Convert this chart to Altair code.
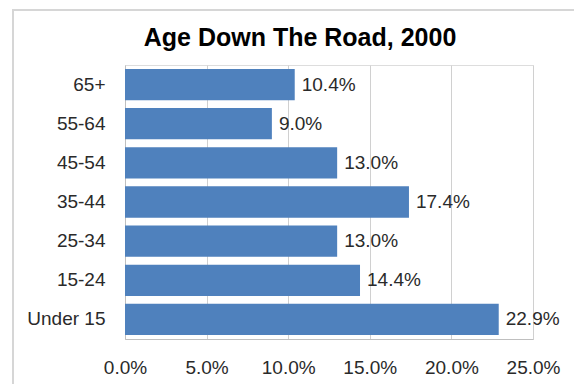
import altair as alt
import pandas as pd

title_text = "Age Down The Road, 2000"
categories = ["65+", "55-64", "45-54", "35-44", "25-34", "15-24", "Under 15"]
values = [10.4, 9.0, 13.0, 17.4, 13.0, 14.4, 22.9]
ticks = [0, 5, 10, 15, 20, 25]

df = pd.DataFrame({"age": categories, "pct": values})
df["label"] = df["pct"].map(lambda v: f"{v:.1f}%")

FONT = "Liberation Sans"
TXT = "#2a2a2a"

y = alt.Y("age:N", sort=categories, title=None,
          scale=alt.Scale(paddingInner=0.2, paddingOuter=0.1),
          axis=alt.Axis(labelFontSize=19, labelColor=TXT, labelFont=FONT,
                        ticks=False, labelPadding=20, domainColor="#bfbfbf"))
x = alt.X("pct:Q", title=None,
          scale=alt.Scale(domain=[0, 25], nice=False),
          axis=alt.Axis(values=ticks, labelExpr="format(datum.value, '.1f') + '%'",
                        labelFontSize=19, labelColor=TXT, labelFont=FONT,
                        ticks=False, labelPadding=19, domainColor="#bfbfbf",
                        gridColor="#d0d0d0", labelFlush=False))

one = pd.DataFrame({"t": [title_text]})

frame = alt.Chart(one).mark_rect(
    fill=None, stroke="#d6d6d6", strokeWidth=2).encode(
    x=alt.value(-112), x2=alt.value(460), y=alt.value(-55), y2=alt.value(330))

title = alt.Chart(one).mark_text(fontSize=25, font=FONT, fontWeight="bold", color="#000",
                                 align="center", baseline="middle").encode(
    x=alt.value(175), y=alt.value(-27), text="t:N")

bars = alt.Chart(df).mark_bar(color="#4F81BD").encode(x=x, y=y)
text = alt.Chart(df).mark_text(align="left", dx=7, fontSize=19, font=FONT,
                               color=TXT).encode(x="pct:Q", y=alt.Y("age:N", sort=categories), text="label:N")

chart = (frame + title + bars + text).properties(
    width=408, height=274,
    autosize=alt.AutoSizeParams(type="none"),
    padding={"left": 125, "top": 65, "right": 41, "bottom": 45},
).configure_view(stroke=None).configure(background="white")

chart.save("out.html", embed_options={"renderer": "svg", "actions": False})
